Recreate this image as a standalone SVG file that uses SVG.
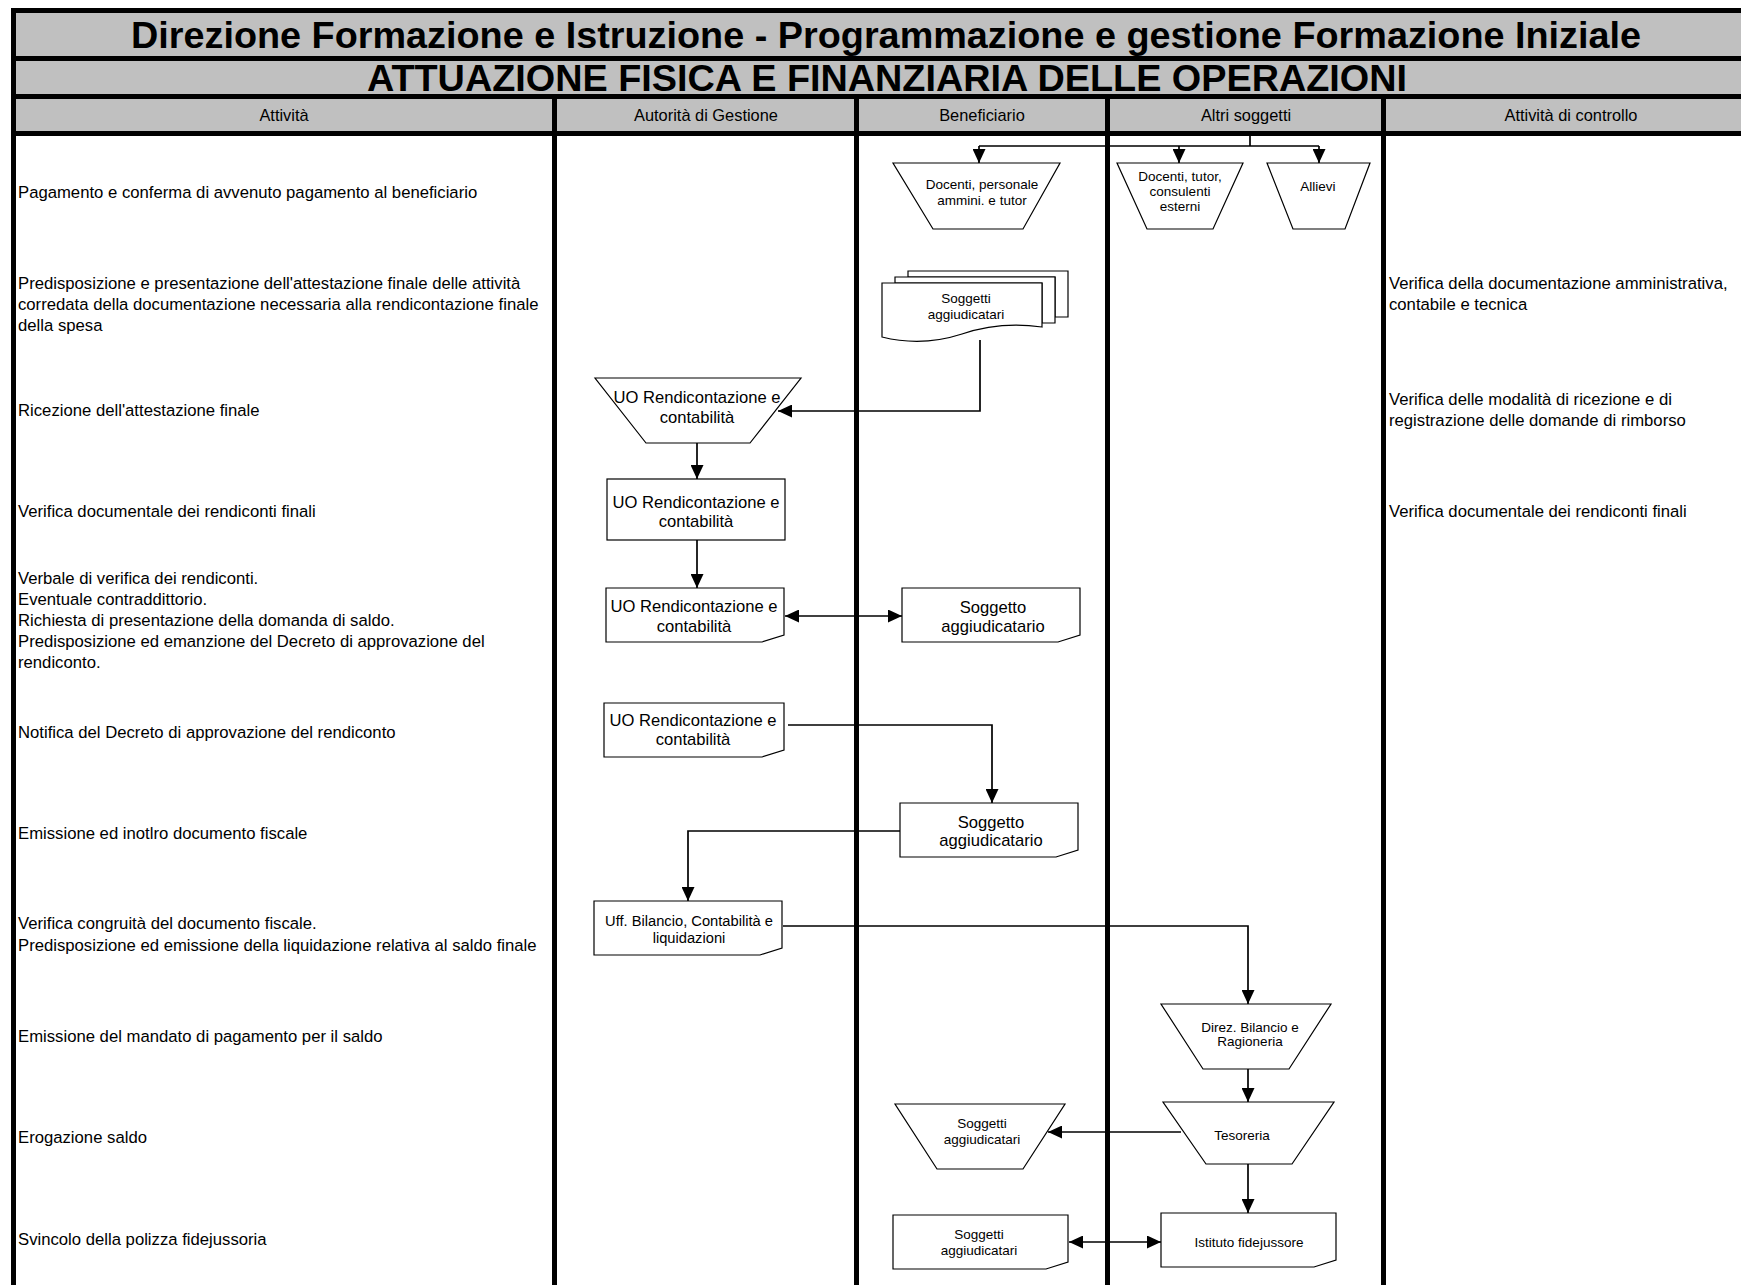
<svg xmlns="http://www.w3.org/2000/svg" width="1741" height="1285" viewBox="0 0 1741 1285">
<defs>
<style>
.bar{fill:#000}
.hdr{fill:#c0c0c0}
.title{font-family:"Liberation Sans",Arial,sans-serif;font-weight:bold;font-size:37.8px;fill:#000;text-anchor:middle}
.th{font-family:"Liberation Sans",Arial,sans-serif;font-size:16.4px;fill:#000;text-anchor:middle}
.tx{font-family:"Liberation Sans",Arial,sans-serif;font-size:16.7px;fill:#000}
.nt{font-family:"Liberation Sans",Arial,sans-serif;font-size:16.6px;fill:#000;text-anchor:middle}
.ns{font-family:"Liberation Sans",Arial,sans-serif;font-size:13.5px;fill:#000;text-anchor:middle}
.nm{font-family:"Liberation Sans",Arial,sans-serif;font-size:14.7px;fill:#000;text-anchor:middle}
.shape{fill:#fff;stroke:#000;stroke-width:1.2}
.conn{fill:none;stroke:#000;stroke-width:1.7}
</style>
<marker id="arr" markerUnits="userSpaceOnUse" markerWidth="14" markerHeight="13" refX="14" refY="6.5" orient="auto-start-reverse">
<path d="M0,0 L14,6.5 L0,13 Z" fill="#000"/>
</marker>
</defs>
<rect x="0" y="0" width="1741" height="1285" fill="#fff"/>

<g id="frame">
<rect class="hdr" x="16" y="13" width="1725" height="43"/>
<rect class="hdr" x="16" y="61" width="1725" height="33"/>
<rect class="hdr" x="16" y="99" width="1725" height="32"/>
<rect class="bar" x="11" y="8" width="1730" height="5"/>
<rect class="bar" x="11" y="56" width="1730" height="5"/>
<rect class="bar" x="11" y="94" width="1730" height="5"/>
<rect class="bar" x="11" y="131" width="1730" height="5"/>
<rect class="bar" x="11" y="8" width="5" height="1277"/>
<rect class="bar" x="552" y="94" width="5" height="1191"/>
<rect class="bar" x="854" y="94" width="5" height="1191"/>
<rect class="bar" x="1105" y="94" width="5" height="1191"/>
<rect class="bar" x="1381" y="94" width="5" height="1191"/>
<text class="title" x="886" y="48">Direzione Formazione e Istruzione - Programmazione e gestione Formazione Iniziale</text>
<text class="title" x="887" y="91">ATTUAZIONE FISICA E FINANZIARIA DELLE OPERAZIONI</text>
<text class="th" x="284" y="121">Attività</text>
<text class="th" x="706" y="121">Autorità di Gestione</text>
<text class="th" x="982" y="121">Beneficiario</text>
<text class="th" x="1246" y="121">Altri soggetti</text>
<text class="th" x="1571" y="121">Attività di controllo</text>
</g>

<g id="activities">
<text class="tx" x="18" y="198">Pagamento e conferma di avvenuto pagamento al beneficiario</text>
<text class="tx" x="18" y="289">Predisposizione e presentazione dell'attestazione finale delle attività</text>
<text class="tx" x="18" y="310">corredata della documentazione necessaria alla rendicontazione finale</text>
<text class="tx" x="18" y="331">della spesa</text>
<text class="tx" x="18" y="416">Ricezione dell'attestazione finale</text>
<text class="tx" x="18" y="517">Verifica documentale dei rendiconti finali</text>
<text class="tx" x="18" y="584">Verbale di verifica dei rendiconti.</text>
<text class="tx" x="18" y="605">Eventuale contraddittorio.</text>
<text class="tx" x="18" y="626">Richiesta di presentazione della domanda di saldo.</text>
<text class="tx" x="18" y="647">Predisposizione ed emanzione del Decreto di approvazione del</text>
<text class="tx" x="18" y="668">rendiconto.</text>
<text class="tx" x="18" y="738">Notifica del Decreto di approvazione del rendiconto</text>
<text class="tx" x="18" y="839">Emissione ed inotlro documento fiscale</text>
<text class="tx" x="18" y="929">Verifica congruità del documento fiscale.</text>
<text class="tx" x="18" y="951">Predisposizione ed emissione della liquidazione relativa al saldo finale</text>
<text class="tx" x="18" y="1042">Emissione del mandato di pagamento per il saldo</text>
<text class="tx" x="18" y="1143">Erogazione saldo</text>
<text class="tx" x="18" y="1245">Svincolo della polizza fidejussoria</text>
</g>

<g id="controls">
<text class="tx" x="1389" y="289">Verifica della documentazione amministrativa,</text>
<text class="tx" x="1389" y="310">contabile e tecnica</text>
<text class="tx" x="1389" y="405">Verifica delle modalità di ricezione e di</text>
<text class="tx" x="1389" y="426">registrazione delle domande di rimborso</text>
<text class="tx" x="1389" y="517">Verifica documentale dei rendiconti finali</text>
</g>

<g id="connectors">
<path class="conn" d="M1250,136 V146 M979,146 H1319"/>
<path class="conn" d="M979,146 V163" marker-end="url(#arr)"/>
<path class="conn" d="M1179,146 V163" marker-end="url(#arr)"/>
<path class="conn" d="M1319,146 V163" marker-end="url(#arr)"/>
<path class="conn" d="M980,340 V411 H778" marker-end="url(#arr)"/>
<path class="conn" d="M697,443 V479" marker-end="url(#arr)"/>
<path class="conn" d="M697,540 V588" marker-end="url(#arr)"/>
<path class="conn" d="M785,616 H902" marker-start="url(#arr)" marker-end="url(#arr)"/>
<path class="conn" d="M788,725 H992 V803" marker-end="url(#arr)"/>
<path class="conn" d="M900,831 H688 V901" marker-end="url(#arr)"/>
<path class="conn" d="M783,926 H1248 V1004" marker-end="url(#arr)"/>
<path class="conn" d="M1248,1069 V1102" marker-end="url(#arr)"/>
<path class="conn" d="M1181,1132 H1048" marker-end="url(#arr)"/>
<path class="conn" d="M1248,1164 V1213" marker-end="url(#arr)"/>
<path class="conn" d="M1069,1242 H1161" marker-start="url(#arr)" marker-end="url(#arr)"/>
</g>

<g id="n-docenti-personale">
<polygon class="shape" points="893,163 1060,163 1023,229 933,229"/>
<text class="ns" x="982" y="189">Docenti, personale</text>
<text class="ns" x="982" y="205">ammini. e tutor</text>
</g>
<g id="n-docenti-tutor">
<polygon class="shape" points="1117,163 1243,163 1213,229 1147,229"/>
<text class="ns" x="1180" y="181">Docenti, tutor,</text>
<text class="ns" x="1180" y="196">consulenti</text>
<text class="ns" x="1180" y="211">esterni</text>
</g>
<g id="n-allievi">
<polygon class="shape" points="1267,163 1370,163 1345,229 1293,229"/>
<text class="ns" x="1318" y="191">Allievi</text>
</g>

<g id="n-soggetti-multi">
<path class="shape" d="M908,271 H1068 V317 H1055 V277 H908 Z"/>
<path class="shape" d="M895,277 H1055 V323 H1042 V283 H895 Z"/>
<path class="shape" d="M882,283 H1042 V327 Q1000,321 962,334 Q922,347 882,337 Z"/>
<text class="ns" x="966" y="303">Soggetti</text>
<text class="ns" x="966" y="319">aggiudicatari</text>
</g>

<g id="n-uo-ricezione">
<polygon class="shape" points="595,378 801,378 750,443 646,443"/>
<text class="nt" x="697" y="403">UO Rendicontazione e</text>
<text class="nt" x="697" y="423">contabilità</text>
</g>

<g id="n-uo-verifica">
<rect class="shape" x="607" y="479" width="178" height="61"/>
<text class="nt" x="696" y="508">UO Rendicontazione e</text>
<text class="nt" x="696" y="527">contabilità</text>
</g>

<g id="n-uo-verbale">
<path class="shape" d="M606,588 H784 V635 L762,642 H606 Z"/>
<text class="nt" x="694" y="612">UO Rendicontazione e</text>
<text class="nt" x="694" y="632">contabilità</text>
</g>

<g id="n-soggetto-verbale">
<path class="shape" d="M902,588 H1080 V635 L1058,642 H902 Z"/>
<text class="nt" x="993" y="613">Soggetto</text>
<text class="nt" x="993" y="632">aggiudicatario</text>
</g>

<g id="n-uo-notifica">
<path class="shape" d="M604,703 H784 V750 L762,757 H604 Z"/>
<text class="nt" x="693" y="726">UO Rendicontazione e</text>
<text class="nt" x="693" y="745">contabilità</text>
</g>

<g id="n-soggetto-fiscale">
<path class="shape" d="M900,803 H1078 V850 L1056,857 H900 Z"/>
<text class="nt" x="991" y="828">Soggetto</text>
<text class="nt" x="991" y="846">aggiudicatario</text>
</g>

<g id="n-uff-bilancio">
<path class="shape" d="M594,901 H782 V948 L760,955 H594 Z"/>
<text class="nm" x="689" y="926">Uff. Bilancio, Contabilità e</text>
<text class="nm" x="689" y="943">liquidazioni</text>
</g>

<g id="n-direz-bilancio">
<polygon class="shape" points="1161,1004 1331,1004 1289,1069 1203,1069"/>
<text class="ns" x="1250" y="1032">Direz. Bilancio e</text>
<text class="ns" x="1250" y="1046">Ragioneria</text>
</g>

<g id="n-tesoreria">
<polygon class="shape" points="1163,1102 1334,1102 1292,1164 1206,1164"/>
<text class="ns" x="1242" y="1140">Tesoreria</text>
</g>

<g id="n-soggetti-erogazione">
<polygon class="shape" points="895,1104 1065,1104 1023,1169 937,1169"/>
<text class="ns" x="982" y="1128">Soggetti</text>
<text class="ns" x="982" y="1144">aggiudicatari</text>
</g>

<g id="n-istituto">
<path class="shape" d="M1161,1213 H1336 V1260 L1314,1267 H1161 Z"/>
<text class="ns" x="1249" y="1247">Istituto fidejussore</text>
</g>

<g id="n-soggetti-svincolo">
<path class="shape" d="M893,1215 H1068 V1262 L1046,1269 H893 Z"/>
<text class="ns" x="979" y="1239">Soggetti</text>
<text class="ns" x="979" y="1255">aggiudicatari</text>
</g>
</svg>
